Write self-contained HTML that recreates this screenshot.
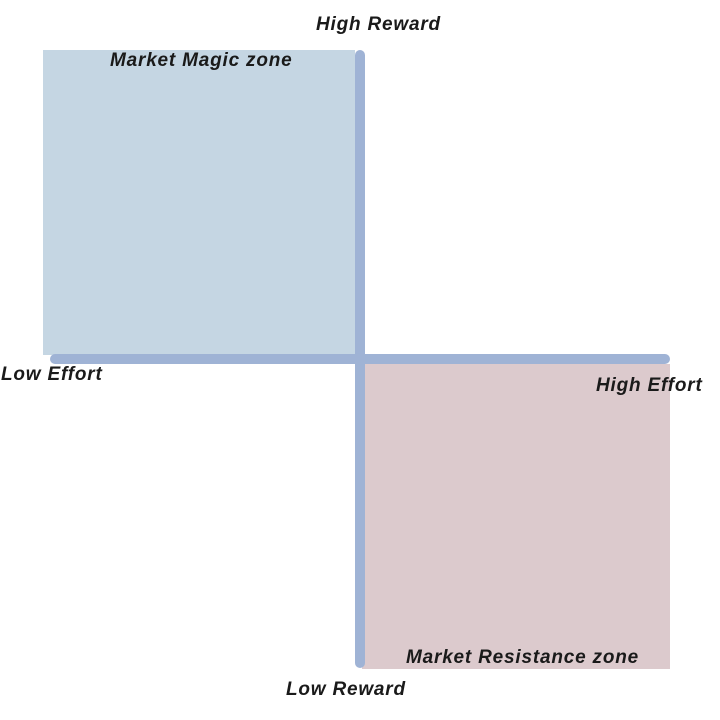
<!DOCTYPE html>
<html><head><style>
body{margin:0;width:720px;height:720px;background:#fff;position:relative;overflow:hidden;font-family:"Liberation Sans",sans-serif}
div{position:absolute}
.t{font-weight:bold;font-style:italic;font-size:19px;letter-spacing:0.8px;color:#1a1a1a;white-space:nowrap}
</style></head><body>
<div style="left:43px;top:50px;width:312px;height:305px;background:#c5d6e3"></div>
<div style="left:362px;top:364px;width:308px;height:305px;background:#dccacd"></div>
<div style="left:355px;top:50px;width:10px;height:618px;background:#9fb3d5;border-radius:5px"></div>
<div style="left:50px;top:354px;width:620px;height:10px;background:#9fb3d5;border-radius:5px"></div>
<div class="t" style="left:316px;top:14px">High Reward</div>
<div class="t" style="left:110px;top:50px">Market Magic zone</div>
<div class="t" style="left:1px;top:364px">Low Effort</div>
<div class="t" style="left:596px;top:375px">High Effort</div>
<div class="t" style="left:406px;top:647px">Market Resistance zone</div>
<div class="t" style="left:286px;top:679px">Low Reward</div>
</body></html>
